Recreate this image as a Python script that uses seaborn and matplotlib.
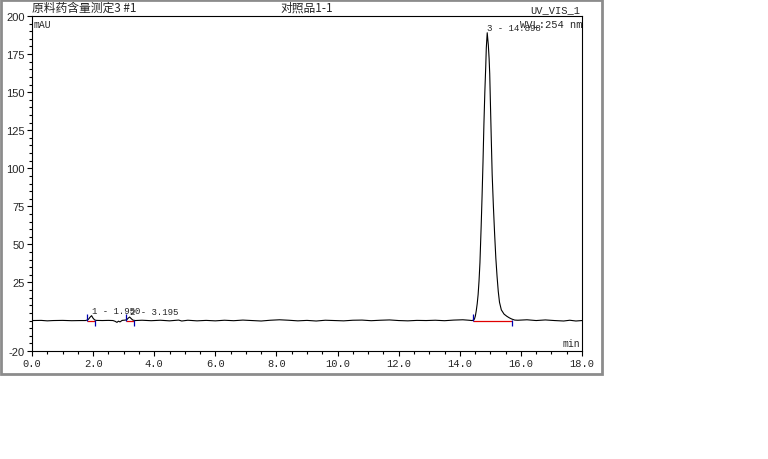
import matplotlib
matplotlib.use("Agg")
import matplotlib.pyplot as plt
import seaborn as sns
from matplotlib.ticker import MultipleLocator, FixedLocator
from matplotlib.patches import Rectangle

# chromatogram trace (time in min, signal in mAU)
time = [0.00, 0.30, 0.50, 0.70, 1.00, 1.30, 1.60, 1.75,
        1.80, 1.85, 1.90, 1.95, 2.00, 2.05, 2.10,
        2.30, 2.50, 2.65, 2.72, 2.78, 2.83, 2.88, 2.95, 3.05,
        3.10, 3.15, 3.195, 3.25, 3.30, 3.38,
        3.60, 3.90, 4.20, 4.50, 4.80, 4.90, 5.10, 5.40, 5.70, 6.00,
        6.30, 6.60, 6.90, 7.20, 7.50, 7.80, 8.10, 8.40, 8.70, 9.00,
        9.30, 9.60, 9.90, 10.20, 10.50, 10.80, 11.10, 11.40, 11.70, 12.00,
        12.30, 12.60, 12.90, 13.20, 13.50, 13.80, 14.10, 14.30,
        14.40, 14.45, 14.48, 14.51, 14.54, 14.57, 14.60, 14.63, 14.66, 14.70,
        14.73, 14.76, 14.79, 14.82, 14.85, 14.868, 14.898,
        14.934, 14.96, 14.98, 15.00, 15.03, 15.06, 15.10, 15.14, 15.18,
        15.22, 15.26, 15.30, 15.36, 15.45, 15.54, 15.62, 15.70, 15.80,
        15.90, 16.20, 16.50, 16.80, 17.10, 17.40, 17.60, 17.80, 18.00]
signal = [0.0, 0.1, -0.2, 0.0, 0.1, -0.1, 0.0, 0.0,
          0.3, 0.9, 2.2, 3.2, 1.5, 0.4, 0.1,
          0.0, 0.1, 0.0, -0.5, -1.2, -0.4, -0.9, 0.1, 0.3,
          0.5, 1.6, 2.3, 1.2, 0.3, 0.0,
          0.2, -0.1, 0.2, -0.2, 0.3, -0.3, 0.2, -0.2, 0.1, -0.2,
          0.2, -0.1, 0.3, 0.0, -0.3, 0.2, 0.5, 0.2, -0.2, 0.1,
          -0.3, 0.2, 0.0, -0.2, 0.2, 0.3, -0.1, 0.2, 0.4, 0.0,
          -0.2, 0.1, 0.0, 0.2, -0.1, 0.3, 0.5, 0.2,
          0.0, 0.3, 1.0, 3.0, 6.5, 11.0, 17.0, 26.0, 38.0, 62.0,
          82.0, 104.0, 129.0, 150.0, 167.0, 179.0, 189.0,
          181.0, 172.0, 162.0, 145.0, 120.0, 96.0, 75.0, 57.0, 41.0,
          29.0, 19.0, 12.0, 7.0, 4.2, 2.8, 1.8, 1.0, 0.3,
          0.2, 0.5, 0.0, 0.4, 0.0, -0.3, 0.2, -0.3, 0.0]

# integration marks and peak labels
peak_rt = [1.950, 3.195, 14.898]
peak_height = [3.2, 2.3, 189.0]
peak_labels = ["1 - 1.950", "2 - 3.195", "3 - 14.898"]
peak_start = [1.80, 3.08, 14.42]
peak_end = [2.07, 3.33, 15.72]

x_ticks = [0, 2, 4, 6, 8, 10, 12, 14, 16, 18]
x_labels = ["0.0", "2.0", "4.0", "6.0", "8.0", "10.0", "12.0", "14.0", "16.0", "18.0"]
y_ticks = [-20, 25, 50, 75, 100, 125, 150, 175, 200]
y_labels = ["-20", "25", "50", "75", "100", "125", "150", "175", "200"]

sns.set_style("ticks")

fig = plt.figure(figsize=(7.68, 4.60), dpi=100)
ax = fig.add_axes([32 / 768, 1 - 352 / 460, 550 / 768, 335 / 460])

sns.lineplot(x=time, y=signal, ax=ax, color="black", lw=0.8,
             estimator=None, sort=False)

# baselines (red) and start / end marks (blue)
ax.hlines([0] * len(peak_start), peak_start, peak_end, color="#e00000", lw=0.9)
ax.vlines(peak_start, -0.5, 4.0, color="#0000b0", lw=0.9)
ax.vlines(peak_end, 0.5, -3.5, color="#0000b0", lw=0.9)

for rt, h, lab in zip(peak_rt, peak_height, peak_labels):
    ax.annotate(lab, (rt, h), xytext=(0, 0.5), textcoords="offset points",
                ha="left", va="bottom", fontsize=6.5, family="Liberation Mono")

ax.set_xlim(0, 18)
ax.set_ylim(-20, 200)
ax.xaxis.set_major_locator(FixedLocator(x_ticks))
ax.set_xticklabels(x_labels, family="Liberation Mono", fontsize=7.5)
ax.xaxis.set_minor_locator(MultipleLocator(0.5))
ax.yaxis.set_major_locator(FixedLocator(y_ticks))
ax.set_yticklabels(y_labels, family="Liberation Sans", fontsize=8)
ax.yaxis.set_minor_locator(MultipleLocator(5))
ax.tick_params(axis="both", which="major", direction="out", length=3.5, width=0.8, pad=1.5, color="black")
ax.tick_params(axis="both", which="minor", direction="out", length=2, width=0.8, color="black")
ax.set_xlabel("")
ax.set_ylabel("")
for s in ax.spines.values():
    s.set_visible(True)
    s.set_linewidth(0.8)
    s.set_color("black")

# header and unit texts
ax.text(0, 1.006, "原料药含量测定3 #1", transform=ax.transAxes, ha="left", va="bottom",
        fontsize=8.5, family="Noto Sans CJK SC")
ax.text(0.5, 1.006, "对照品1-1", transform=ax.transAxes, ha="center", va="bottom",
        fontsize=8.5, family="Noto Sans CJK SC")
ax.text(0.997, 1.006, "UV_VIS_1", transform=ax.transAxes, ha="right", va="bottom",
        fontsize=7.5, family="Liberation Mono")
ax.text(0.002, 0.992, "mAU", transform=ax.transAxes, ha="left", va="top",
        fontsize=7, family="Liberation Mono")
ax.text(1.0, 0.992, "WVL:254 nm", transform=ax.transAxes, ha="right", va="top",
        fontsize=7.5, family="Liberation Mono")
ax.text(0.997, 0.01, "min", transform=ax.transAxes, ha="right", va="bottom",
        fontsize=7, family="Liberation Mono")

# grey outer frame of the report panel
fig.patches.append(Rectangle((1 / 768, 1 - 375 / 460), 601 / 768, 374 / 460,
                             transform=fig.transFigure, fill=False,
                             edgecolor="#8c8c8c", lw=2))

fig.savefig("out.png", dpi=100)
